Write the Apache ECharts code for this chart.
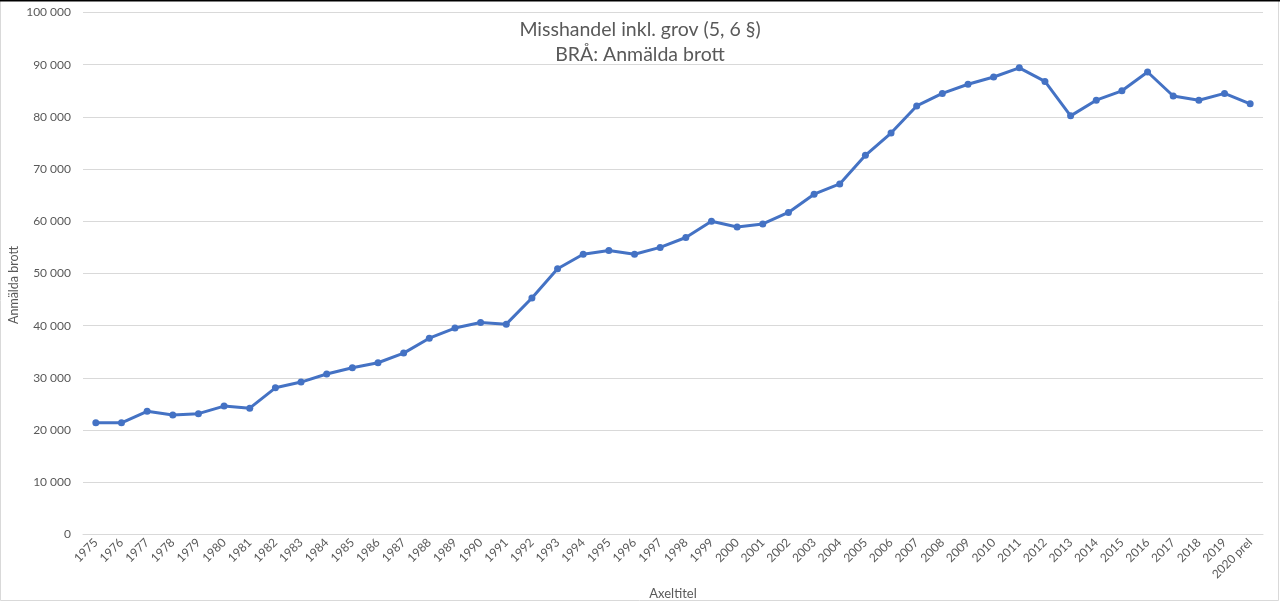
<!DOCTYPE html>
<html><head><meta charset="utf-8">
<script src="https://cdn.jsdelivr.net/npm/echarts@6/dist/echarts.min.js"></script>
<style>html,body{margin:0;padding:0;background:#fff}#c{width:1280px;height:602px}</style>
</head><body><div id="c"></div>
<script>
const categories = ['1975','1976','1977','1978','1979','1980','1981','1982','1983','1984','1985','1986','1987','1988','1989','1990','1991','1992','1993','1994','1995','1996','1997','1998','1999','2000','2001','2002','2003','2004','2005','2006','2007','2008','2009','2010','2011','2012','2013','2014','2015','2016','2017','2018','2019','2020 prel'];
const values = [21400,21400,23600,22900,23150,24600,24200,28100,29200,30750,31950,32900,34750,37600,39550,40600,40300,45300,50900,53700,54400,53700,55000,56900,60000,58900,59500,61700,65200,67150,72650,76900,82100,84500,86250,87650,89400,86800,80200,83200,85000,88600,84000,83200,84500,82500];
const titleLines = ['Misshandel inkl. grov (5, 6 §)', 'BRÅ: Anmälda brott'];
const yName = 'Anmälda brott';
const xName = 'Axeltitel';

const font = 'Lato, "Open Sans", sans-serif';
const chart = echarts.init(document.getElementById('c'));
chart.setOption({
  backgroundColor: '#fff',
  animation: false,
  textStyle: {fontFamily: font},
  title: {
    text: titleLines.join('\n'),
    left: 'center', top: 12,
    textStyle: {fontSize: 19.5, fontWeight: 'normal', color: '#595959', lineHeight: 25, fontFamily: font}
  },
  graphic: [
    {type: 'rect', shape: {x: 0.5, y: 0.5, width: 1278, height: 600}, style: {fill: 'none', stroke: '#d9d9d9', lineWidth: 1}, silent: true},
    {type: 'rect', shape: {x: 0, y: 0, width: 1280, height: 1.5}, style: {fill: '#000'}, silent: true},
    {type: 'text', x: 14, y: 285, rotation: Math.PI / 2, silent: true,
     style: {text: yName, fontSize: 12.5, fill: '#595959', fontFamily: font, align: 'center', verticalAlign: 'middle'}}
  ],
  grid: {left: 83, right: 17, top: 12.5, bottom: 67.5, containLabel: false, outerBoundsMode: 'none'},
  xAxis: {
    type: 'category', data: categories, boundaryGap: true,
    name: xName, nameLocation: 'middle', nameGap: 48,
    nameTextStyle: {fontSize: 13, color: '#595959', fontFamily: font},
    axisLine: {lineStyle: {color: '#d9d9d9'}},
    axisTick: {show: false},
    axisLabel: {rotate: 45, interval: 0, fontSize: 12, color: '#595959', margin: 6, fontFamily: font}
  },
  yAxis: {
    type: 'value', min: 0, max: 100000, interval: 10000,
    axisLine: {show: false}, axisTick: {show: false},
    splitLine: {lineStyle: {color: '#d9d9d9'}},
    axisLabel: {fontSize: 12, color: '#595959', margin: 12, fontFamily: font,
      formatter: v => String(v).replace(/\B(?=(\d{3})+(?!\d))/g, ' ')}
  },
  series: [{
    type: 'line', data: values,
    lineStyle: {color: '#4472C4', width: 3},
    itemStyle: {color: '#4472C4'},
    symbol: 'circle', symbolSize: 7, showSymbol: true
  }]
});
</script></body></html>
